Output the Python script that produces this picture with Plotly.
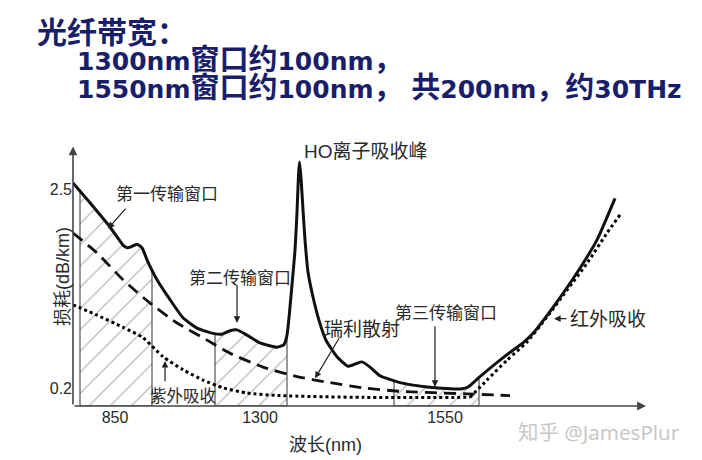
import numpy as np
import plotly.graph_objects as go

# ---------------- data (schematic position along wavelength axis, loss in dB/km) ----------------
total_x = [0, 17, 37, 50, 54, 58, 64, 69, 74, 84, 97, 110, 124, 140, 149, 157, 164, 174, 187, 204,
           211, 214, 216, 219, 222, 224, 225.5, 226.5, 228, 230, 232, 235, 240, 246, 253, 264, 275, 283, 289, 297,
           307, 327, 354, 377, 389, 395, 407, 427, 444, 450, 460, 480, 504, 524, 542]
total_y = [2.58, 2.35, 2.07, 1.86, 1.83, 1.84, 1.87, 1.83, 1.69, 1.46, 1.23, 1.02, 0.90, 0.84, 0.83, 0.87, 0.88, 0.82, 0.73, 0.68,
           0.71, 0.82, 1.02, 1.40, 1.80, 2.24, 2.67, 2.82, 2.64, 2.27, 1.92, 1.55, 1.26, 0.99, 0.76, 0.57, 0.46, 0.49, 0.51, 0.45,
           0.35, 0.27, 0.22, 0.20, 0.20, 0.22, 0.34, 0.53, 0.68, 0.73, 0.84, 1.14, 1.54, 1.92, 2.40]

rayleigh_x = [0, 24, 50, 77, 104, 130, 157, 190, 224, 257, 290, 327, 394, 437]
rayleigh_y = [2.00, 1.77, 1.46, 1.19, 0.96, 0.79, 0.61, 0.45, 0.34, 0.27, 0.21, 0.17, 0.14, 0.12]

uv_x = [0, 24, 50, 70, 90, 110, 130, 150, 174, 207, 290, 397]
uv_y = [1.17, 1.05, 0.91, 0.79, 0.57, 0.42, 0.30, 0.21, 0.15, 0.12, 0.10, 0.10]

ir_x = [397, 414, 434, 454, 474, 494, 514, 534, 547]
ir_y = [0.10, 0.30, 0.53, 0.74, 1.03, 1.34, 1.65, 2.00, 2.21]

window_start = [7, 142, 321]
window_end = [79, 214, 406]

x_tick_pos = [42, 187, 372]
x_tick_text = ["850", "1300", "1550"]
y_tick_vals = [0.2, 2.5]
y_tick_text = ["0.2", "2.5"]

# ---------------- figure ----------------
X_MAX = 573
Y_MAX = 3.006
INK = "#111111"
TXT = "#2a2a2a"
NAVY = "#1a1e6a"
CJK = "Noto Sans CJK SC"
LAT = "Liberation Sans, Arial, " + CJK

fig = go.Figure()

# hatched transmission windows
for a, b in zip(window_start, window_end):
    xs = np.linspace(a, b, 40)
    top = np.interp(xs, total_x, total_y)
    px = [a] + list(xs) + [b, a]
    py = [0] + list(top) + [0, 0]
    fig.add_trace(go.Scatter(
        x=px, y=py, mode="lines", fill="toself",
        line=dict(color="#333333", width=1),
        fillcolor="rgba(0,0,0,0)",
        fillpattern=dict(shape="/", fgcolor="#555555", size=15, solidity=0.07),
        hoverinfo="skip", showlegend=False))

DOT = dict(color="#000000", width=3, dash="3px,3px", shape="spline", smoothing=0.6)
# UV absorption (dotted)
fig.add_trace(go.Scatter(x=uv_x, y=uv_y, mode="lines", line=DOT, showlegend=False))
# IR absorption (dotted)
fig.add_trace(go.Scatter(x=ir_x, y=ir_y, mode="lines", line=DOT, showlegend=False))
# Rayleigh scattering (dashed)
fig.add_trace(go.Scatter(x=rayleigh_x, y=rayleigh_y, mode="lines",
                         line=dict(color=INK, width=2.8, dash="12px,7px", shape="spline", smoothing=0.6),
                         showlegend=False))
# total loss (solid)
fig.add_trace(go.Scatter(x=total_x, y=total_y, mode="lines",
                         line=dict(color=INK, width=3, shape="spline", smoothing=0.5),
                         showlegend=False))

ann = []

def arrow(x, y, ax, ay, width=1.2, color="#222222"):
    ann.append(dict(x=x, y=y, ax=ax, ay=ay, xref="x", yref="y", axref="x", ayref="y",
                    text="", showarrow=True, arrowhead=2, arrowsize=1.1, arrowwidth=width,
                    arrowcolor=color, standoff=0, startstandoff=0))

def label(x, y, text, size, xanchor="center", color=TXT, family=CJK, xref="x", yref="y", angle=0, align="center"):
    ann.append(dict(x=x, y=y, xref=xref, yref=yref, text=text, showarrow=False,
                    xanchor=xanchor, yanchor="middle", textangle=angle, align=align,
                    font=dict(family=family, size=size, color=color)))

# axes as arrows
arrow(0, Y_MAX - 0.005, 0, 0, width=1.6, color="#444444")
arrow(X_MAX, 0, 0, 0, width=1.6, color="#444444")

# annotation arrows
arrow(35, 2.05, 54, 2.30)      # 第一传输窗口
arrow(164, 0.96, 164, 1.42)    # 第二传输窗口
arrow(92, 0.52, 92, 0.27)      # 紫外吸收
arrow(242, 0.32, 267, 0.80)    # 瑞利散射
arrow(362, 0.22, 362, 0.94)    # 第三传输窗口
arrow(481, 1.01, 495, 1.01)    # 红外吸收

# chart labels
label(94, 2.47, "第一传输窗口", 17)
label(167, 1.50, "第二传输窗口", 17)
label(373, 1.09, "第三传输窗口", 17)
label(289, 0.91, "瑞利散射", 19)
label(495, 1.02, "红外吸收", 19, xanchor="left")
label(110, 0.13, "紫外吸收", 16.5)
label(293, 2.96, "<span style='font-family:Liberation Sans'>HO</span>离子吸收峰", 19)

# labels outside the plotting area (paper coordinates)
label(0.4398, -0.142, "波长<span style='font-family:Liberation Sans'>(nm)</span>", 18, xref="paper", yref="paper")
label(0.918, -0.10, "知乎 @JamesPlur", 20.5, color="#c8c8c8", family="Noto Sans, " + CJK, xref="paper", yref="paper")
label(-0.0209, 0.496, "损耗<span style='font-family:Liberation Sans'>(dB/km)</span>", 18,
      xref="paper", yref="paper", angle=-90)

# header text
def lat(s):
    return "<span style='font-family:DejaVu Sans;font-size:25px'>" + s + "</span>"

def cjk(s, px=29):
    return "<span style='font-size:%dpx'>%s</span>" % (px, s)

label(-0.0663, 1.445, "<b>光纤带宽：</b>", 30, xanchor="left", color=NAVY, xref="paper", yref="paper")
header = ("<b>" + lat("1300nm") + cjk("窗口约") + lat("100nm") + cjk("，") + "<br>"
          + lat("1550nm") + cjk("窗口约") + lat("100nm") + cjk("，") + lat(" ") + cjk("共")
          + lat("200nm") + cjk("，约") + lat("30THz") + "</b>")
label(0.0035, 1.29, header, 21.7, xanchor="left", color=NAVY, xref="paper", yref="paper", align="left")

fig.update_layout(
    width=702, height=460, autosize=False,
    margin=dict(l=73, r=56, t=146, b=54, pad=0),
    paper_bgcolor="white", plot_bgcolor="white",
    showlegend=False,
    annotations=ann,
    xaxis=dict(range=[0, X_MAX], showgrid=False, zeroline=False, showline=False,
               tickmode="array", tickvals=x_tick_pos, ticktext=x_tick_text, ticks="",
               tickfont=dict(family=LAT, size=16, color=TXT), fixedrange=True),
    yaxis=dict(range=[0, Y_MAX], showgrid=False, zeroline=False, showline=False,
               tickmode="array", tickvals=y_tick_vals, ticktext=y_tick_text, ticks="",
               ticklabelstandoff=0,
               tickfont=dict(family=LAT, size=16, color=TXT), fixedrange=True),
)

fig.write_html("out.html")
